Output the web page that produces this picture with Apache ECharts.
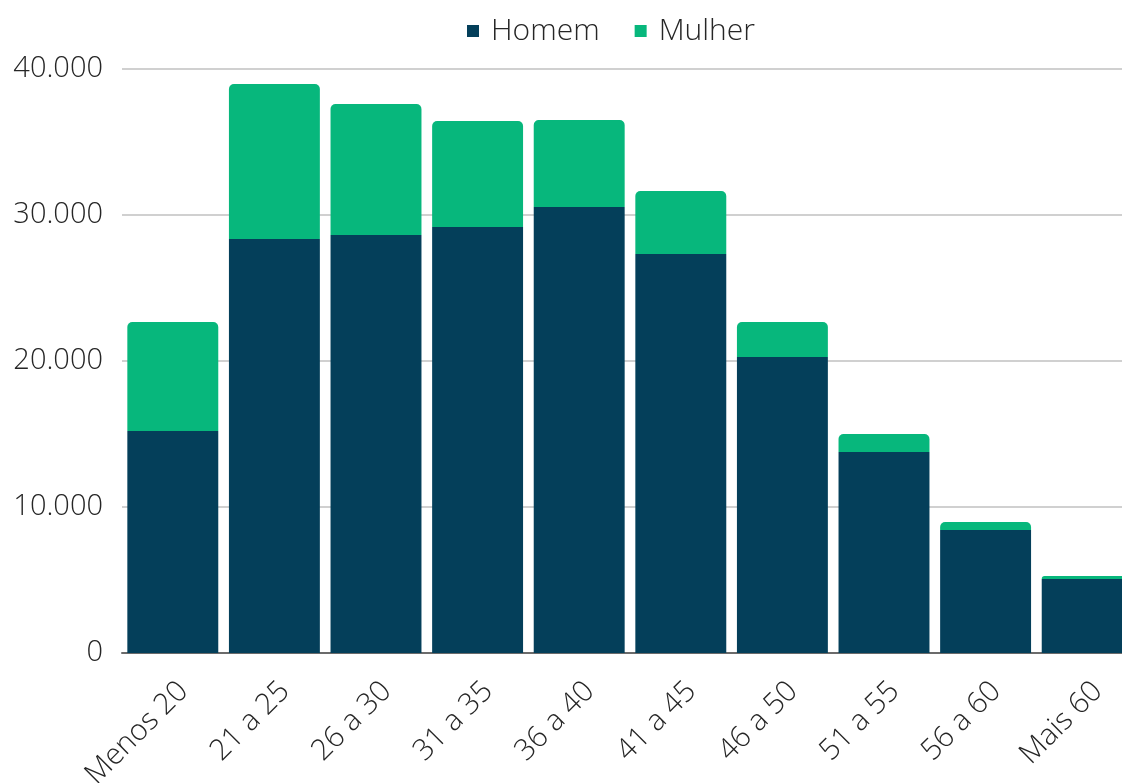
<!DOCTYPE html>
<html>
<head>
<meta charset="utf-8">
<script src="https://cdn.jsdelivr.net/npm/echarts@6/dist/echarts.min.js"></script>
<style>html,body{margin:0;padding:0;background:#fff;overflow:hidden}#c{width:1138px;height:783px}</style>
</head>
<body>
<div id="c"></div>
<script>
const categories = ['Menos 20','21 a 25','26 a 30','31 a 35','36 a 40','41 a 45','46 a 50','51 a 55','56 a 60','Mais 60'];
const homem  = [15200, 28350, 28630, 29180, 30550, 27330, 20270, 13770, 8420, 5070];
const mulher = [7470, 10620, 8970, 7260, 5950, 4310, 2400, 1230, 550, 200];
const seriesNames = ['Homem', 'Mulher'];
const yTicks = { min: 0, max: 40000, interval: 10000 };

const FONT = '"Open Sans", "Noto Sans", sans-serif';
const fmt = v => String(v).replace(/\B(?=(\d{3})+(?!\d))/g, '.');

const chart = echarts.init(document.getElementById('c'));
chart.setOption({
  animation: false,
  textStyle: { fontFamily: FONT },
  legend: {
    data: seriesNames,
    top: 11,
    left: 462,
    itemWidth: 12,
    itemHeight: 12,
    itemGap: 35,
    icon: 'rect',
    textStyle: { fontFamily: FONT, fontSize: 30, fontWeight: 300, color: '#262626', padding: [0, 0, 0, 7] }
  },
  grid: { left: 122, right: 0, top: 69, bottom: 130, containLabel: false, outerBoundsMode: 'none' },
  xAxis: {
    type: 'category',
    data: categories,
    axisLine: { show: true, lineStyle: { color: '#6b6b6b', width: 2 } },
    axisTick: { show: false },
    axisLabel: { rotate: 45, fontSize: 29.5, fontWeight: 300, color: '#262626', fontFamily: FONT, margin: 23, verticalAlign: 'top' }
  },
  yAxis: {
    type: 'value',
    min: yTicks.min, max: yTicks.max, interval: yTicks.interval,
    axisLine: { show: false },
    axisTick: { show: false },
    splitLine: { lineStyle: { color: '#c0c0c0', width: 1.5 } },
    axisLabel: { formatter: fmt, fontSize: 29, fontWeight: 300, color: '#262626', fontFamily: FONT, margin: 19 }
  },
  series: [
    {
      name: seriesNames[0], type: 'bar', stack: 't', data: homem,
      barCategoryGap: '10.5%',
      itemStyle: { color: '#043f5a' }
    },
    {
      name: seriesNames[1], type: 'bar', stack: 't', data: mulher,
      barCategoryGap: '10.5%',
      itemStyle: { color: '#07b77c', borderRadius: [5, 5, 0, 0] }
    }
  ]
});
</script>
</body>
</html>
